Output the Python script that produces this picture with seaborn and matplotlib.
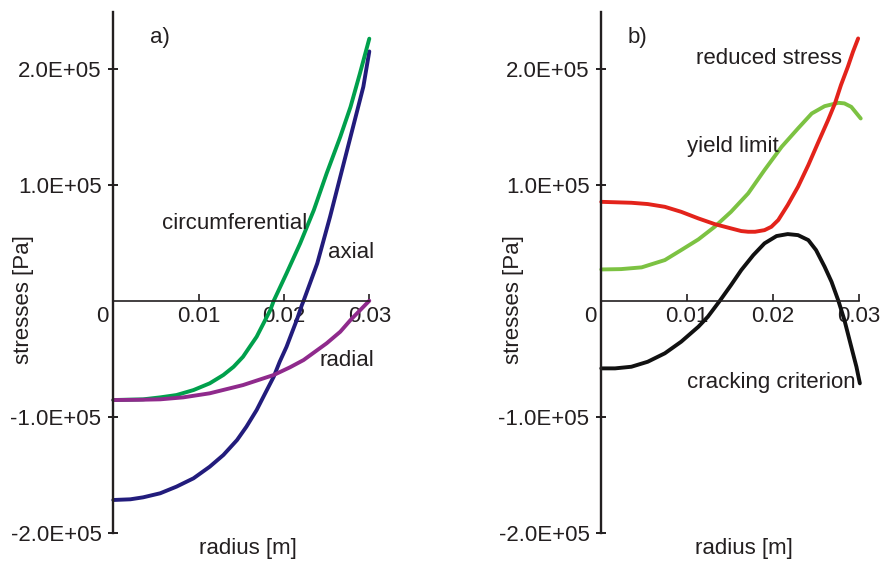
import matplotlib
matplotlib.use("Agg")
import matplotlib.pyplot as plt
import pandas as pd
import seaborn as sns

# ---- data: stress distributions over the radius ----
# a) stress components
circ_r = [0, 0.0035, 0.0055, 0.0074, 0.0094, 0.0113, 0.0129, 0.0141, 0.0152,
          0.0160, 0.0168, 0.0176, 0.0184, 0.0188, 0.0203, 0.0219, 0.0235,
          0.0250, 0.0266, 0.0278, 0.0289, 0.0300]
circ_v = [-85600, -85000, -83300, -81300, -77000, -71200, -64000, -56900,
          -48300, -39600, -31000, -19500, -8000, 0, 23600, 49500, 78200,
          109800, 141400, 167200, 196000, 226000]

axial_r = [0, 0.0020, 0.0035, 0.0055, 0.0074, 0.0094, 0.0113, 0.0129, 0.0145,
           0.0156, 0.0168, 0.0178, 0.0188, 0.0195, 0.0203, 0.0209, 0.0215,
           0.0221, 0.0223, 0.0239, 0.0254, 0.0270, 0.0285, 0.0293, 0.0300]
axial_v = [-171800, -171200, -169500, -166000, -160300, -153100, -143100,
           -133000, -120100, -108600, -94200, -79800, -65500, -52600, -39700,
           -28100, -16600, -3700, 0, 32200, 72400, 118400, 161500, 184500,
           215000]

radial_r = [0, 0.0030, 0.0055, 0.0082, 0.0113, 0.0152, 0.0188, 0.0207, 0.0223,
            0.0250, 0.0266, 0.0278, 0.0300]
radial_v = [-85600, -85400, -85000, -83300, -79800, -72700, -64000, -57400,
            -51100, -36700, -26700, -16600, 0]

# b) equivalent stress, yield limit and cracking criterion
reduced_r = [0, 0.0035, 0.0054, 0.0074, 0.0093, 0.0113, 0.0132, 0.0151, 0.0163,
             0.0171, 0.0179, 0.0190, 0.0198, 0.0206, 0.0217, 0.0229, 0.0241,
             0.0252, 0.0264, 0.0272, 0.0279, 0.0287, 0.0293, 0.0299]
reduced_v = [85300, 84500, 83400, 81000, 76700, 71000, 66100, 62400, 60100,
             59500, 59500, 60900, 63800, 69600, 82500, 98300, 117000, 135700,
             155800, 170200, 186000, 201700, 214700, 226200]

yield_r = [0, 0.0023, 0.0047, 0.0074, 0.0093, 0.0113, 0.0132, 0.0151, 0.0171,
           0.0190, 0.0210, 0.0229, 0.0245, 0.0260, 0.0276, 0.0283, 0.0291,
           0.0302]
yield_v = [27000, 27300, 28800, 35100, 43700, 52900, 63800, 76700, 92600,
           112700, 132800, 148600, 161500, 167800, 170700, 170200, 167200,
           157200]

crack_r = [0, 0.0016, 0.0035, 0.0054, 0.0074, 0.0093, 0.0113, 0.0124, 0.0138,
           0.0151, 0.0163, 0.0177, 0.0190, 0.0204, 0.0217, 0.0229, 0.0241,
           0.0250, 0.0260, 0.0268, 0.0276, 0.0283, 0.0291, 0.0297, 0.0301]
crack_v = [-58300, -58300, -56900, -52600, -45300, -35300, -22400, -13800, 0,
           13500, 26500, 39400, 49500, 55800, 57500, 56600, 52300, 43700,
           29300, 16400, 0, -16600, -39700, -56900, -71200]

x_ticks = [0.01, 0.02, 0.03]
x_tick_labels = ["0.01", "0.02", "0.03"]
y_ticks = [-2e5, -1e5, 1e5, 2e5]
y_tick_labels = ["-2.0E+05", "-1.0E+05", "1.0E+05", "2.0E+05"]

# ---- style ----
sns.set_style("white")
plt.rcParams["font.family"] = ["Liberation Sans", "DejaVu Sans"]
TEXT = "#231f20"
FS = 16

W, H = 889, 561
fig = plt.figure(figsize=(W / 100, H / 100), dpi=100)


def rect(x0, x1, top=12.0, bottom=532.7):
    return [x0 / W, 1 - bottom / H, (x1 - x0) / W, (bottom - top) / H]


ax_a = fig.add_axes(rect(113.3, 369.3))
ax_b = fig.add_axes(rect(601.3, 859.0))


def style(ax, ylab_x, xlab_x):
    ax.set_xlim(0, 0.03)
    ax.set_ylim(-2e5, 2.49e5)
    for s in ("top", "right"):
        ax.spines[s].set_visible(False)
    ax.spines["bottom"].set_position(("data", 0))
    ax.spines["left"].set_linewidth(1.7)
    ax.spines["bottom"].set_linewidth(1.2)
    ax.spines["left"].set_color(TEXT)
    ax.spines["bottom"].set_color(TEXT)
    ax.set_xticks(x_ticks)
    ax.set_xticklabels(x_tick_labels)
    ax.set_yticks(y_ticks)
    ax.set_yticklabels(y_tick_labels)
    ax.tick_params(axis="y", left=True, direction="inout", length=7, width=1.4,
                   pad=5, labelsize=FS, colors=TEXT)
    ax.tick_params(axis="x", bottom=True, direction="in", length=5, width=1.2,
                   pad=4, labelsize=FS, colors=TEXT)
    ax.annotate("0", xy=(0, 0), xytext=(-3.6, -4), textcoords="offset points",
                ha="right", va="top", fontsize=FS, color=TEXT)
    ax.set_xlabel("radius [m]", fontsize=FS, color=TEXT)
    ax.set_ylabel("stresses [Pa]", fontsize=FS, color=TEXT)
    ax.xaxis.label.set_va("center")
    ax.yaxis.label.set_va("center")
    ax.xaxis.set_label_coords(xlab_x, -0.0294)
    ax.yaxis.set_label_coords(ylab_x, 0.447)
    ax.grid(False)


def curve(ax, r, v, color):
    df = pd.DataFrame({"radius": r, "stress": v})
    sns.lineplot(data=df, x="radius", y="stress", color=color, linewidth=2.8,
                 estimator=None, sort=False, ax=ax, clip_on=False,
                 solid_capstyle="round", solid_joinstyle="round")


# a) stress components
curve(ax_a, axial_r, axial_v, "#221c7c")
curve(ax_a, circ_r, circ_v, "#00a04c")
curve(ax_a, radial_r, radial_v, "#8f2a8c")
style(ax_a, -0.351, 0.526)
ax_a.text(0.0043, 222400, "a)", fontsize=FS, color=TEXT, va="baseline")
ax_a.text(0.00567, 61800, "circumferential", fontsize=FS, color=TEXT, va="baseline")
ax_a.text(0.0252, 37100, "axial", fontsize=FS, color=TEXT, va="baseline")
ax_a.text(0.0242, -56300, "radial", fontsize=FS, color=TEXT, va="baseline")

# b) comparison with material limits
curve(ax_b, yield_r, yield_v, "#7cc242")
curve(ax_b, reduced_r, reduced_v, "#e3231b")
curve(ax_b, crack_r, crack_v, "#111111")
style(ax_b, -0.339, 0.554)
ax_b.text(0.0031, 221900, "b)", fontsize=FS, color=TEXT, va="baseline")
ax_b.text(0.01106, 203800, "reduced stress", fontsize=FS, color=TEXT, va="baseline")
ax_b.text(0.0100, 128400, "yield limit", fontsize=FS, color=TEXT, va="baseline")
ax_b.text(0.0100, -75500, "cracking criterion", fontsize=FS, color=TEXT, va="baseline")

fig.savefig("out.png", dpi=100)
